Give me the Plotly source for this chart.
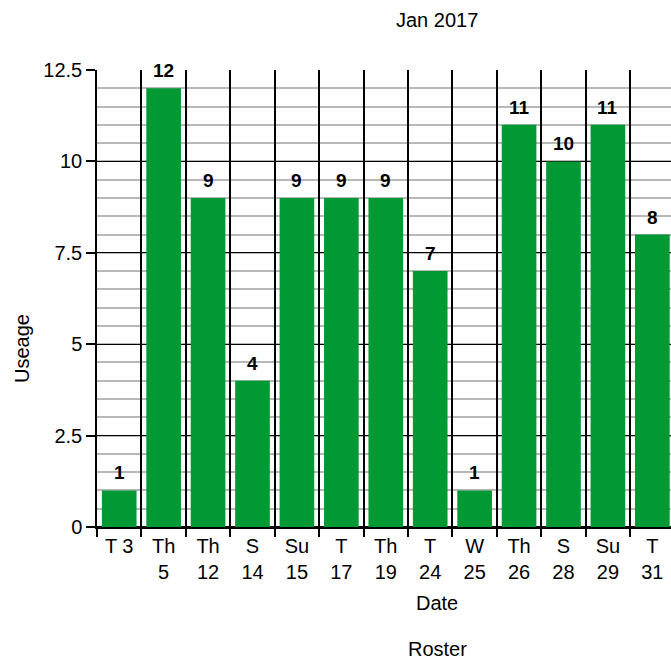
import plotly.graph_objects as go

categories = ["T 3", "Th<br>5", "Th<br>12", "S<br>14", "Su<br>15", "T<br>17", "Th<br>19",
              "T<br>24", "W<br>25", "Th<br>26", "S<br>28", "Su<br>29", "T<br>31"]
usage = [1, 12, 9, 4, 9, 9, 9, 7, 1, 11, 10, 11, 8]
y_ticks = [0, 2.5, 5, 7.5, 10, 12.5]
y_tick_labels = ["0", "2.5", "5", "7.5", "10", "12.5"]

FONT = "Liberation Sans, Arial, Helvetica, sans-serif"
W, H = 671, 659
L, R, T, B = 97, 0, 70, 659 - 527

fig = go.Figure()
fig.add_trace(go.Bar(
    x=categories, y=usage, marker=dict(color="#009933", line=dict(width=0)),
    showlegend=False, hoverinfo="x+y",
))

annotations = []
for c, v in zip(categories, usage):
    annotations.append(dict(x=c, y=v, xref="x", yref="y", text="<b>%d</b>" % v,
                            showarrow=False, yanchor="bottom", yshift=5,
                            font=dict(family=FONT, size=19, color="black")))

def px_x(px):
    return (px - L) / (W - L - R)

def px_y(py):
    return (H - B - py) / (H - T - B)

for txt, x, y, ang in [("Jan 2017", 437, 20, 0), ("Date", 437, 603, 0),
                       ("Roster", 437, 649, 0), ("Useage", 22, 349, -90)]:
    annotations.append(dict(text=txt, x=px_x(x), y=px_y(y), xref="paper", yref="paper",
                            xanchor="center", yanchor="middle", textangle=ang,
                            showarrow=False, font=dict(family=FONT, size=20, color="black")))

fig.update_layout(
    width=W, height=H,
    margin=dict(l=L, r=R, t=T, b=B, pad=0),
    paper_bgcolor="white", plot_bgcolor="white",
    bargap=0.22,
    font=dict(family=FONT, size=20, color="black"),
    annotations=annotations,
    xaxis=dict(
        type="category", range=[-0.5, 12.42], tickson="boundaries",
        ticks="outside", ticklen=8, tickcolor="black", tickwidth=1.5,
        showgrid=True, gridcolor="black", gridwidth=1.5,
        showline=True, linecolor="black", linewidth=2,
        tickfont=dict(family=FONT, size=20, color="black"),
    ),
    yaxis=dict(
        range=[0, 12.5], tickmode="array", tickvals=y_ticks, ticktext=y_tick_labels,
        ticks="outside", ticklen=9, tickcolor="black", tickwidth=1.5,
        showgrid=True, gridcolor="black", gridwidth=1.2,
        minor=dict(dtick=0.5, showgrid=True, gridcolor="#b8b8b8", gridwidth=1.5),
        zeroline=True, zerolinecolor="black", zerolinewidth=2,
        showline=True, linecolor="black", linewidth=1.5,
        tickfont=dict(family=FONT, size=20, color="black"),
    ),
)

fig.write_html(
    "out.html",
    config={"displayModeBar": False},
    post_script="document.body.style.margin='0';document.body.style.overflow='hidden';",
)
